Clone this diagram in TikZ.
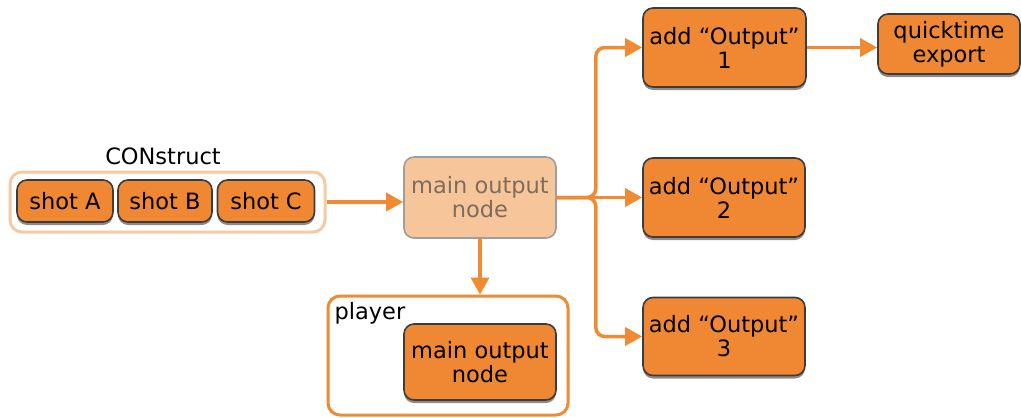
\documentclass[tikz,border=0pt]{standalone}
\usepackage{fontspec}
\setmainfont{DejaVu Sans}
\usetikzlibrary{arrows.meta,shadows}
\definecolor{org}{HTML}{EF8733}
\definecolor{arrc}{HTML}{F08A33}
\definecolor{peach}{HTML}{F7C59A}
\definecolor{lpeach}{HTML}{F9C8A0}
\definecolor{bord}{HTML}{3C3C3C}
\definecolor{mtext}{HTML}{7E6C5C}
\begin{document}
\begin{tikzpicture}[x=1pt,y=-1pt,
  font=\fontsize{22.5}{24}\selectfont,
  box/.style={draw=bord, line width=1.6pt, fill=org, rounded corners=10pt, align=center,
    inner sep=0pt, drop shadow={shadow xshift=0pt, shadow yshift=-3pt, fill=black!45, opacity=1}},
  lightbox/.style={draw=black!38, line width=1.6pt, fill=peach, rounded corners=10pt, align=center,
    inner sep=0pt, text=mtext},
  arr/.style={draw=arrc, line width=3.5pt, -{Triangle[length=17pt,width=18pt]}},
  grp/.style={rounded corners=12pt, line width=3pt, inner sep=0pt}
]
\useasboundingbox (0,0) rectangle (1021,418);
% construct group
\node[grp, draw=lpeach, minimum width=315pt, minimum height=60pt] (construct) at (167.5,202) {};
\node (clabel) at (163,156) {CONstruct};
\node[box, minimum width=96pt, minimum height=42pt] (sa) at (65,201) {shot A};
\node[box, minimum width=94pt, minimum height=42pt] (sb) at (165,201) {shot B};
\node[box, minimum width=97pt, minimum height=42pt] (sc) at (266,201) {shot C};
% main
\node[lightbox, minimum width=152pt, minimum height=81pt] (main) at (480,197.5) {main output\\node};
% outputs
\node[box, minimum width=163pt, minimum height=79pt] (o1) at (724.5,47.5) {add “Output”\\1};
\node[box, minimum width=162pt, minimum height=79pt] (o2) at (724,197.5) {add “Output”\\2};
\node[box, minimum width=162pt, minimum height=78pt] (o3) at (724,336.5) {add “Output”\\3};
\node[box, minimum width=142pt, minimum height=60pt] (qt) at (949,44) {quicktime\\export};
% player
\node[grp, draw=arrc, minimum width=240pt, minimum height=119pt] (player) at (448,355.5) {};
\node[anchor=west] (plabel) at (331,313) {player};
\node[box, minimum width=152pt, minimum height=76pt] (inner) at (480,362) {main output\\node};
% connectors
\draw[arr] (construct.east) -- (main.west |- construct.east);
\draw[arr] (main.east) -- (o2.west);
\draw[arr, rounded corners=9pt] (main.east) -- ++(39,0) |- (o1.west);
\draw[arr, rounded corners=9pt] (main.east) -- ++(39,0) |- (o3.west);
\draw[arr] (o1.east) -- (o1.east -| qt.west);
\draw[arr] (main.south) -- (main.south |- player.north);
\end{tikzpicture}
\end{document}
